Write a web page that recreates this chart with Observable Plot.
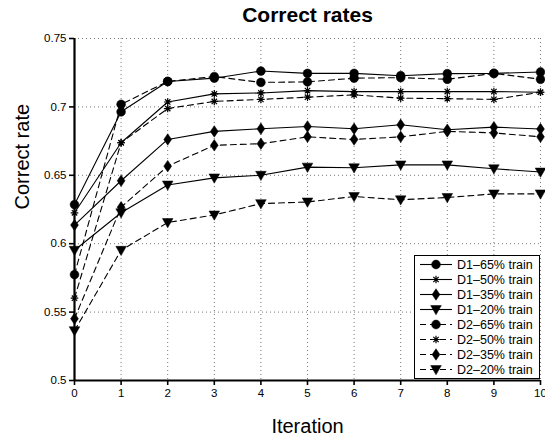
<!DOCTYPE html>
<html>
<head>
<meta charset="utf-8">
<script src="https://cdn.jsdelivr.net/npm/d3@7"></script>
<script src="https://cdn.jsdelivr.net/npm/@observablehq/plot@0.6"></script>
<style>
  body { margin: 0; background: #fff; }
  #wrap { position: relative; width: 545px; height: 440px; font-family: "Liberation Sans", Arial, sans-serif; }
  #legend { position: absolute; left: 414px; top: 255px; width: 124px; background: #fff; border: 1px solid #000; padding: 1px 0; }
  .row { display: flex; align-items: center; height: 15px; font-size: 12.5px; color: #000; white-space: nowrap; }
  .row svg { margin-left: 4px; margin-right: 4px; }
</style>
</head>
<body>
<div id="wrap"></div>
<script>
const iterations = [0, 1, 2, 3, 4, 5, 6, 7, 8, 9, 10];
const d1_65 = [0.6286, 0.6964, 0.7186, 0.7210, 0.7262, 0.7245, 0.7245, 0.7228, 0.7243, 0.7245, 0.7255];
const d1_50 = [0.6226, 0.6738, 0.7036, 0.7095, 0.7102, 0.7119, 0.7112, 0.7112, 0.7112, 0.7112, 0.7107];
const d1_35 = [0.6136, 0.6460, 0.6762, 0.6821, 0.6840, 0.6857, 0.6840, 0.6869, 0.6833, 0.6852, 0.6838];
const d1_20 = [0.5952, 0.6226, 0.6429, 0.6481, 0.6500, 0.6560, 0.6555, 0.6576, 0.6576, 0.6548, 0.6524];
const d2_65 = [0.5774, 0.7019, 0.7186, 0.7222, 0.7179, 0.7183, 0.7210, 0.7214, 0.7202, 0.7245, 0.7202];
const d2_50 = [0.5602, 0.6738, 0.6988, 0.7040, 0.7055, 0.7071, 0.7088, 0.7064, 0.7060, 0.7055, 0.7107];
const d2_35 = [0.5452, 0.6267, 0.6567, 0.6719, 0.6731, 0.6781, 0.6762, 0.6781, 0.6821, 0.6810, 0.6781];
const d2_20 = [0.5364, 0.5952, 0.6155, 0.6210, 0.6293, 0.6305, 0.6345, 0.6321, 0.6338, 0.6364, 0.6364];
const seriesNames = ["D1–65% train", "D1–50% train", "D1–35% train", "D1–20% train",
                     "D2–65% train", "D2–50% train", "D2–35% train", "D2–20% train"];
const seriesValues = [d1_65, d1_50, d1_35, d1_20, d2_65, d2_50, d2_35, d2_20];
const seriesMarkers = ["circle", "asterisk", "diamond", "triangle", "circle", "asterisk", "diamond", "triangle"];
const seriesDashed = [false, false, false, false, true, true, true, true];
const yTicks = [0.5, 0.55, 0.6, 0.65, 0.7, 0.75];
const xTicks = [0, 1, 2, 3, 4, 5, 6, 7, 8, 9, 10];
const titleText = "Correct rates";
const xLabel = "Iteration";
const yLabel = "Correct rate";

// custom symbols
const triDown = {
  draw(ctx, size) {
    const r = Math.sqrt(size / Math.PI);
    const a = r * 1.15;
    ctx.moveTo(-a, -a * 0.75);
    ctx.lineTo(a, -a * 0.75);
    ctx.lineTo(0, a * 1.0);
    ctx.closePath();
  }
};
const star8 = {
  draw(ctx, size) {
    const r = Math.sqrt(size / Math.PI);
    const d = r * 0.7071;
    ctx.moveTo(-r, 0); ctx.lineTo(r, 0);
    ctx.moveTo(0, -r); ctx.lineTo(0, r);
    ctx.moveTo(-d, -d); ctx.lineTo(d, d);
    ctx.moveTo(-d, d); ctx.lineTo(d, -d);
  }
};
const diamondTall = {
  draw(ctx, size) {
    const r = Math.sqrt(size / Math.PI);
    ctx.moveTo(0, -r * 1.25);
    ctx.lineTo(r * 0.85, 0);
    ctx.lineTo(0, r * 1.25);
    ctx.lineTo(-r * 0.85, 0);
    ctx.closePath();
  }
};
const symbolFor = {circle: "circle", asterisk: star8, diamond: diamondTall, triangle: triDown};
const rFor = {circle: 4.4, asterisk: 3.8, diamond: 4.6, triangle: 4.6};

const rows = [];
seriesNames.forEach((name, si) => {
  iterations.forEach((it, i) => rows.push({series: name, si, x: it, y: seriesValues[si][i]}));
});

const marks = [
  Plot.gridX(xTicks, {stroke: "#777", strokeOpacity: 1, strokeDasharray: "1,3"}),
  Plot.gridY(yTicks, {stroke: "#777", strokeOpacity: 1, strokeDasharray: "1,3"}),
  Plot.axisX(xTicks, {tickSize: 5, tickFormat: d => String(d), fontSize: 11.5, tickPadding: 3, label: null, strokeWidth: 1.6}),
  Plot.axisY(yTicks, {tickSize: 5, tickFormat: d => String(+d.toFixed(2)), fontSize: 11.5, tickPadding: 3, label: null, strokeWidth: 1.6}),
  Plot.ruleX([0], {strokeWidth: 2.2}),
  Plot.ruleY([0.5], {strokeWidth: 2.2})
];
seriesNames.forEach((name, si) => {
  const data = rows.filter(d => d.si === si);
  marks.push(Plot.line(data, {x: "x", y: "y", stroke: "black", strokeWidth: 1.1,
    strokeDasharray: seriesDashed[si] ? "6,4" : null}));
  const m = seriesMarkers[si];
  if (m === "asterisk") {
    marks.push(Plot.dot(data, {x: "x", y: "y", symbol: symbolFor[m], r: rFor[m], stroke: "black", strokeWidth: 1.2, fill: "none"}));
  } else {
    marks.push(Plot.dot(data, {x: "x", y: "y", symbol: symbolFor[m], r: rFor[m], fill: "black", stroke: "black", strokeWidth: 0.5}));
  }
});
marks.push(Plot.text([titleText], {frameAnchor: "top", dy: -31, fontSize: 21, fontWeight: "bold", fill: "black"}));
marks.push(Plot.text([xLabel], {frameAnchor: "bottom", dy: 52, fontSize: 20, fill: "black"}));
marks.push(Plot.text([yLabel], {frameAnchor: "left", dx: -52, rotate: -90, fontSize: 20, fill: "black"}));

const chart = Plot.plot({
  width: 545,
  height: 440,
  marginLeft: 74,
  marginRight: 5,
  marginTop: 38,
  marginBottom: 60,
  style: {fontFamily: "Liberation Sans, Arial, sans-serif", background: "white", color: "black", overflow: "visible"},
  x: {domain: [0, 10]},
  y: {domain: [0.5, 0.75]},
  marks
});
const wrap = document.getElementById("wrap");
wrap.appendChild(chart);

// legend
const legend = document.createElement("div");
legend.id = "legend";
seriesNames.forEach((name, si) => {
  const row = document.createElement("div");
  row.className = "row";
  const svg = d3.create("svg").attr("width", 34).attr("height", 13);
  svg.append("line").attr("x1", 1).attr("x2", 33).attr("y1", 6.5).attr("y2", 6.5)
    .attr("stroke", "black").attr("stroke-width", 1.1)
    .attr("stroke-dasharray", seriesDashed[si] ? "6,4" : null);
  const m = seriesMarkers[si];
  const sym = symbolFor[m] === "circle" ? d3.symbolCircle : symbolFor[m];
  const r = rFor[m];
  const p = svg.append("path").attr("transform", "translate(17,6.5)")
    .attr("d", d3.symbol(sym, Math.PI * r * r)());
  if (m === "asterisk") p.attr("fill", "none").attr("stroke", "black").attr("stroke-width", 1.2);
  else p.attr("fill", "black").attr("stroke", "black").attr("stroke-width", 0.5);
  row.appendChild(svg.node());
  const span = document.createElement("span");
  span.textContent = name;
  row.appendChild(span);
  legend.appendChild(row);
});
wrap.appendChild(legend);
</script>
</body>
</html>
